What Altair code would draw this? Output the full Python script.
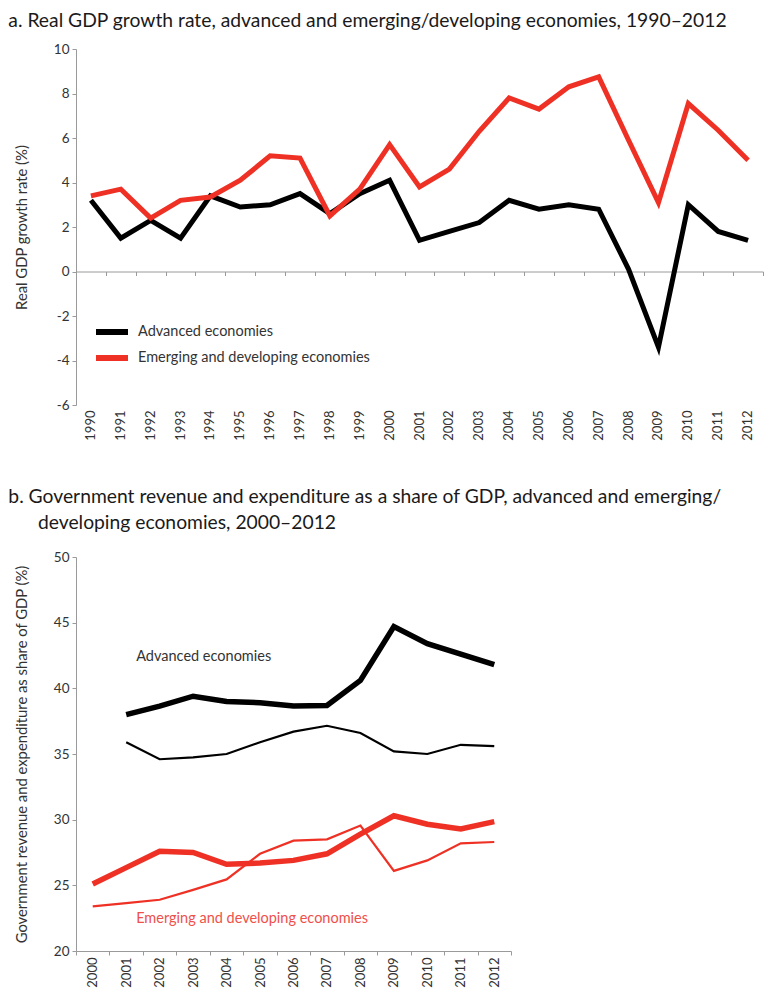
import altair as alt
import pandas as pd

# ---------- data: panel a ----------
years_a = ["1990", "1991", "1992", "1993", "1994", "1995", "1996", "1997",
           "1998", "1999", "2000", "2001", "2002", "2003", "2004", "2005",
           "2006", "2007", "2008", "2009", "2010", "2011", "2012"]
adv_growth = [3.2, 1.5, 2.3, 1.5, 3.4, 2.9, 3.0, 3.5, 2.6, 3.5, 4.1, 1.4,
              1.8, 2.2, 3.2, 2.8, 3.0, 2.8, 0.1, -3.4, 3.0, 1.8, 1.4]
emg_growth = [3.4, 3.7, 2.4, 3.2, 3.35, 4.1, 5.2, 5.1, 2.5, 3.7, 5.7, 3.8,
              4.6, 6.3, 7.8, 7.3, 8.3, 8.75, 5.9, 3.1, 7.55, 6.35, 5.0]
series_names = ["Advanced economies", "Emerging and developing economies"]
y_ticks_a = [-6, -4, -2, 0, 2, 4, 6, 8, 10]

# ---------- data: panel b ----------
years_b = ["2000", "2001", "2002", "2003", "2004", "2005", "2006", "2007",
           "2008", "2009", "2010", "2011", "2012"]
adv_exp = [None, 38.0, 38.65, 39.4, 39.0, 38.9, 38.65, 38.7, 40.6, 44.7, 43.4, 42.6, 41.8]
adv_rev = [None, 35.9, 34.6, 34.75, 35.0, 35.9, 36.7, 37.15, 36.6, 35.2, 35.0, 35.7, 35.6]
emg_exp = [25.1, 26.35, 27.6, 27.5, 26.6, 26.7, 26.9, 27.4, 28.9, 30.3, 29.65, 29.3, 29.85]
emg_rev = [23.4, 23.65, 23.9, 24.65, 25.45, 27.4, 28.4, 28.5, 29.55, 26.1, 26.9, 28.2, 28.3]
y_ticks_b = [20, 25, 30, 35, 40, 45, 50]
annot_text = ["Advanced economies", "Emerging and developing economies"]
annot_year = ["2001", "2001"]
annot_val = [42.4, 22.45]

RED = "#EE3124"
RED_TXT = "#F0504A"
GREY = "#9a9a9a"
TXT = "#333333"
FONT = "Lato"

# ---------- frames ----------
rows = []
for y, a, e in zip(years_a, adv_growth, emg_growth):
    rows.append({"year": y, "value": a, "series": series_names[0]})
    rows.append({"year": y, "value": e, "series": series_names[1]})
df_a = pd.DataFrame(rows)

rows = []
for name, grp, kind, vals in [("adv_exp", "adv", "exp", adv_exp),
                              ("adv_rev", "adv", "rev", adv_rev),
                              ("emg_exp", "emg", "exp", emg_exp),
                              ("emg_rev", "emg", "rev", emg_rev)]:
    for y, v in zip(years_b, vals):
        if v is not None:
            rows.append({"year": y, "value": v, "series": name, "group": grp, "kind": kind})
df_b = pd.DataFrame(rows)
df_annot = pd.DataFrame({"year": annot_year, "value": annot_val, "text": annot_text,
                         "group": ["adv", "emg"]})

# ---------- panel a ----------
WA, HA = 687, 356
ya_lo, ya_hi = -6, 10
xscale_a = alt.Scale(type="band", domain=years_a, paddingInner=0, paddingOuter=0)
yscale_a = alt.Scale(domain=[ya_lo, ya_hi], nice=False, zero=False)

yaxis_a = alt.Axis(values=y_ticks_a, grid=False, tickSize=4, domainColor=GREY, tickColor=GREY,
                   labelFontSize=13.5, labelColor=TXT, labelPadding=3,
                   labelExpr="'' + datum.value",
                   title="Real GDP growth rate (%)", titleFontSize=14.8,
                   titleFontWeight="normal", titleColor=TXT, titlePadding=24)

lines_a = alt.Chart(df_a).mark_line(strokeWidth=5).encode(
    x=alt.X("year:O", scale=xscale_a,
            axis=alt.Axis(orient="bottom", labelAngle=-90, domain=False, ticks=False,
                          title=None, labelPadding=5, labelFontSize=13, labelColor=TXT)),
    y=alt.Y("value:Q", scale=yscale_a, axis=yaxis_a),
    color=alt.Color("series:N",
                    scale=alt.Scale(domain=series_names, range=["#000000", RED]),
                    legend=alt.Legend(orient="none", legendX=25, legendY=272, title=None,
                                      symbolType="M-2,0H2", symbolSize=256,
                                      symbolStrokeWidth=6, labelFontSize=14.5,
                                      labelColor=TXT, labelOffset=15, rowPadding=2,
                                      labelLimit=0, labelFont=FONT)),
)

zero_axis = alt.Chart(df_a).mark_point(opacity=0).encode(
    x=alt.X("year:O", scale=xscale_a,
            axis=alt.Axis(orient="bottom", offset=-HA * (0 - ya_lo) / (ya_hi - ya_lo),
                          labels=False, ticks=True, tickBand="extent", tickSize=4,
                          domain=True, domainColor=GREY, tickColor=GREY, title=None)),
    y=alt.Y("value:Q", scale=yscale_a, axis=yaxis_a),
)

chart_a = alt.layer(lines_a, zero_axis).resolve_axis(x="independent").properties(
    width=WA, height=HA,
    title=alt.TitleParams("a. Real GDP growth rate, advanced and emerging/developing economies, 1990\u20132012",
                          anchor="start", frame="bounds", fontSize=19.3, fontWeight="normal",
                          font=FONT, color="#1a1a1a", offset=11, dx=-6),
)

# ---------- panel b ----------
WB, HB = 435, 394
xscale_b = alt.Scale(type="band", domain=years_b, paddingInner=0, paddingOuter=0)
yscale_b = alt.Scale(domain=[20, 50], nice=False, zero=False)

lines_b = alt.Chart(df_b).mark_line().encode(
    x=alt.X("year:O", scale=xscale_b,
            axis=alt.Axis(orient="bottom", labelAngle=-90, tickBand="extent", tickSize=4,
                          domainColor=GREY, tickColor=GREY, title=None, labelPadding=2,
                          labelFontSize=13, labelColor=TXT)),
    y=alt.Y("value:Q", scale=yscale_b,
            axis=alt.Axis(values=y_ticks_b, grid=False, tickSize=4, domainColor=GREY,
                          tickColor=GREY, labelFontSize=13.5, labelColor=TXT, labelPadding=3,
                          title="Government revenue and expenditure as share of GDP (%)",
                          titleFontSize=14.8, titleFontWeight="normal", titleColor=TXT,
                          titlePadding=24)),
    color=alt.Color("group:N", scale=alt.Scale(domain=["adv", "emg"], range=["#000000", RED]),
                    legend=None),
    strokeWidth=alt.StrokeWidth("kind:N", scale=alt.Scale(domain=["exp", "rev"], range=[5.5, 2.2]),
                                legend=None),
    detail="series:N",
)

annot = alt.Chart(df_annot).mark_text(align="left", baseline="middle", dx=10,
                                      fontSize=14.5, font=FONT).encode(
    x=alt.X("year:O", scale=xscale_b),
    y=alt.Y("value:Q", scale=yscale_b),
    text="text:N",
    color=alt.Color("group:N", scale=alt.Scale(domain=["adv", "emg"], range=[TXT, RED_TXT]),
                    legend=None),
)

chart_b = alt.layer(lines_b, annot).resolve_scale(color="independent").properties(
    width=WB, height=HB,
    title=alt.TitleParams(["b. Government revenue and expenditure as a share of GDP, advanced and emerging/",
                           "\u200b\u00a0\u00a0\u00a0\u00a0\u00a0\u00a0developing economies, 2000\u20132012"],
                          anchor="start", frame="bounds", fontSize=19.3, fontWeight="normal",
                          font=FONT, color="#1a1a1a", offset=17, dx=-6, lineHeight=26),
)

chart = alt.vconcat(chart_a, chart_b, spacing=46).properties(
    padding={"left": 0, "top": 3, "right": 0, "bottom": 0}
).configure(font=FONT, view=alt.ViewConfig(stroke=None))

chart.save("out.html", embed_options={"renderer": "svg", "actions": False})
